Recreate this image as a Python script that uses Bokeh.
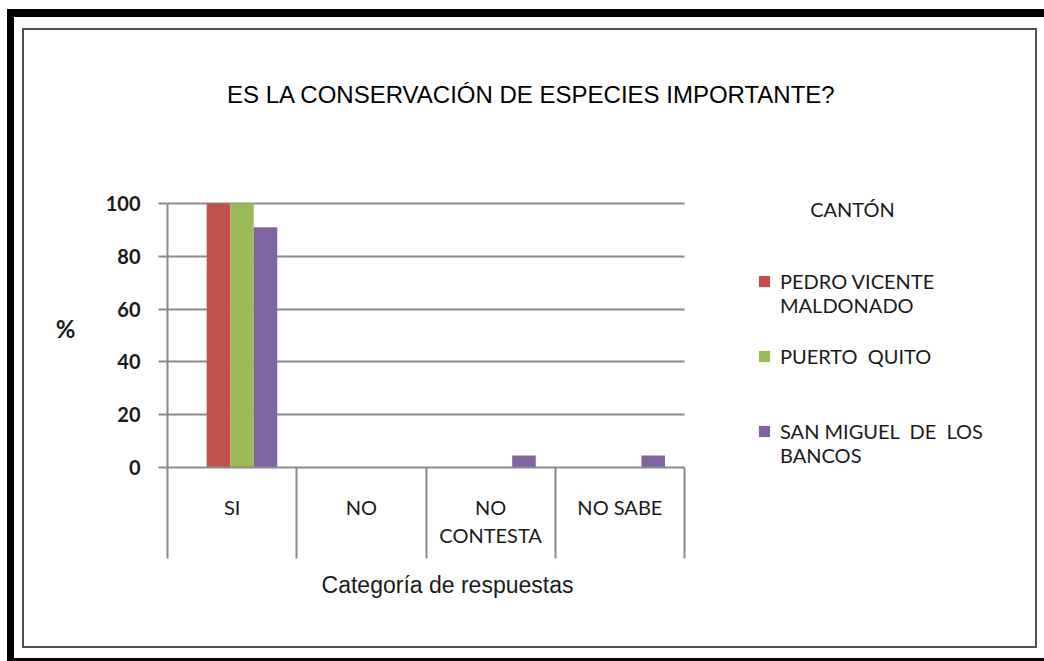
from bokeh.plotting import figure
from bokeh.models import (Range1d, FixedTicker, LinearAxis, Grid, Label,
                          Legend, LegendItem, ColumnDataSource)
from bokeh.transform import dodge
from bokeh.embed import file_html
from bokeh.resources import INLINE

# ---------------- data ----------------
categories = ["SI", "NO", "NO CONTESTA", "NO SABE"]
category_tick_labels = ["SI", "NO", "NO\nCONTESTA", "NO SABE"]
series_names = ["PEDRO VICENTE MALDONADO", "PUERTO  QUITO", "SAN MIGUEL  DE  LOS BANCOS"]
legend_labels = ["\nPEDRO VICENTE\nMALDONADO", "PUERTO  QUITO", "\nSAN MIGUEL  DE  LOS\nBANCOS"]
pedro_vicente_maldonado = [100, 0, 0, 0]
puerto_quito = [100, 0, 0, 0]
san_miguel_de_los_bancos = [91, 0, 4.5, 4.5]
y_ticks = [0, 20, 40, 60, 80, 100]
title_text = "ES LA CONSERVACIÓN DE ESPECIES IMPORTANTE?"
x_title = "Categoría de respuestas"
y_title = "%"
legend_title = "CANTÓN"

colors = ["#C0504D", "#9BBB59", "#8064A2"]
CAL = "Lato"
ARIAL = "Liberation Sans"
TXT = "#1a1a1a"
GRID = "#8a8a8a"

# ---------------- layout geometry (canvas px) ----------------
W, H = 1044, 661
FL, FB = 167, 467          # frame left / bottom (axes positions)
CAT_RIGHT_PX = 684         # right end of the category axis
Y100_PX = 203              # pixel row of the 100 % gridline

x_end = len(categories) * (W - FL) / (CAT_RIGHT_PX - FL)
y_end = 100 * FB / (FB - Y100_PX)


def fx(cx):  # screen x relative to frame left
    return cx - FL


def fy(cy):  # screen y relative to frame bottom (upwards)
    return FB - cy


centers = [i + 0.5 for i in range(len(categories))]
src = ColumnDataSource(dict(x=centers, cat=categories,
                            s0=pedro_vicente_maldonado, s1=puerto_quito, s2=san_miguel_de_los_bancos))

p = figure(width=W, height=H, output_backend="svg", toolbar_location=None,
           x_range=Range1d(0, x_end), y_range=Range1d(0, y_end),
           x_axis_type=None, y_axis_type=None,
           min_border_left=FL, min_border_right=0, min_border_top=0, min_border_bottom=H - FB)
p.outline_line_color = None
p.background_fill_color = None
p.border_fill_color = None

# decorative frame of the original picture, drawn as the page background behind the transparent canvas
bands = [(7, 9, 7, 652, "black"), (7, 9, 1037, 8, "black"), (7, 658, 1037, 3, "black"),
         (22, 28, 1015, 2, "#505050"), (22, 646, 1015, 2, "#505050"),
         (22, 28, 2, 620, "#505050"), (1035, 28, 2, 620, "#505050")]
p.styles = {
    "background-color": "white",
    "background-image": ", ".join(f"linear-gradient({c}, {c})" for *_, c in bands),
    "background-position": ", ".join(f"{x}px {y}px" for x, y, *_ in bands),
    "background-size": ", ".join(f"{w}px {h}px" for _, _, w, h, _ in bands),
    "background-repeat": "no-repeat",
}

# y axis
yax = LinearAxis(ticker=FixedTicker(ticks=y_ticks, minor_ticks=[]), bounds=(0, 100))
yax.axis_line_color = GRID
yax.axis_line_width = 2
yax.major_tick_out = 9
yax.major_tick_in = 0
yax.major_tick_line_color = GRID
yax.major_tick_line_width = 2
yax.minor_tick_line_color = None
yax.major_label_standoff = 18
yax.major_label_text_font = CAL
yax.major_label_text_font_size = "20px"
yax.major_label_text_font_style = "bold"
yax.major_label_text_color = TXT
p.add_layout(yax, "left")

grid = Grid(dimension=1, ticker=yax.ticker, grid_line_color=GRID, grid_line_width=2)
if "cross_bounds" in Grid.properties():
    grid.cross_bounds = (0, len(categories))
p.add_layout(grid)

# x axis: labels at category centers, dividers (minor ticks) at boundaries
xax = LinearAxis(ticker=FixedTicker(ticks=centers, minor_ticks=list(range(len(categories) + 1))),
                 bounds=(0, len(categories)))
xax.major_label_overrides = {c: lab for c, lab in zip(centers, category_tick_labels)}
xax.axis_line_color = GRID
xax.axis_line_width = 2
xax.major_tick_out = 0
xax.major_tick_in = 0
xax.major_tick_line_color = None
xax.minor_tick_out = 91
xax.minor_tick_in = 0
xax.minor_tick_line_color = GRID
xax.minor_tick_line_width = 2
xax.major_label_standoff = -64
xax.major_label_text_font = CAL
xax.major_label_text_font_size = "20px"
xax.major_label_text_color = TXT
xax.major_label_text_line_height = 1.17
p.add_layout(xax, "below")

# bars
bw = 0.182
offsets = [-0.106, 0.076, 0.258]
renderers = []
for k, col in enumerate(["s0", "s1", "s2"]):
    r = p.vbar(x=dodge("x", offsets[k], range=p.x_range), top=col, width=bw, source=src,
               fill_color=colors[k], line_color=None, name=series_names[k])
    renderers.append(r)

legend = Legend(items=[LegendItem(label=legend_labels[k], renderers=[renderers[k]]) for k in range(3)],
                location=(fx(757), 0), orientation="vertical",
                glyph_width=14, glyph_height=14, label_standoff=9, spacing=27, padding=0, margin=0,
                border_line_color=None, background_fill_alpha=0,
                label_text_font=CAL, label_text_font_size="20px", label_text_color=TXT,
                label_text_line_height=1.4)
p.add_layout(legend)

units = dict(x_units="screen", y_units="screen")
p.add_layout(Label(x=fx(531), y=fy(94), text=title_text, text_align="center", text_baseline="middle",
                   text_font=ARIAL, text_font_size="24px", text_color="black", **units))
p.add_layout(Label(x=fx(852), y=fy(208), text=legend_title, text_align="center", text_baseline="middle",
                   text_font=CAL, text_font_size="20px", text_color=TXT, **units))

# texts below / left of the frame live in the bottom side panels (stacked under the x axis)
p.add_layout(Label(x=fx(447), y=-9, text=x_title, text_align="center", text_baseline="middle",
                   text_font=ARIAL, text_font_size="23px", text_color=TXT, **units), "below")
p.add_layout(Label(x=fx(65), y=276, text=y_title, text_align="center", text_baseline="middle",
                   text_font=CAL, text_font_size="24px", text_font_style="bold", text_color=TXT, **units),
             "below")

open("out.html", "w").write(file_html(p, INLINE))
